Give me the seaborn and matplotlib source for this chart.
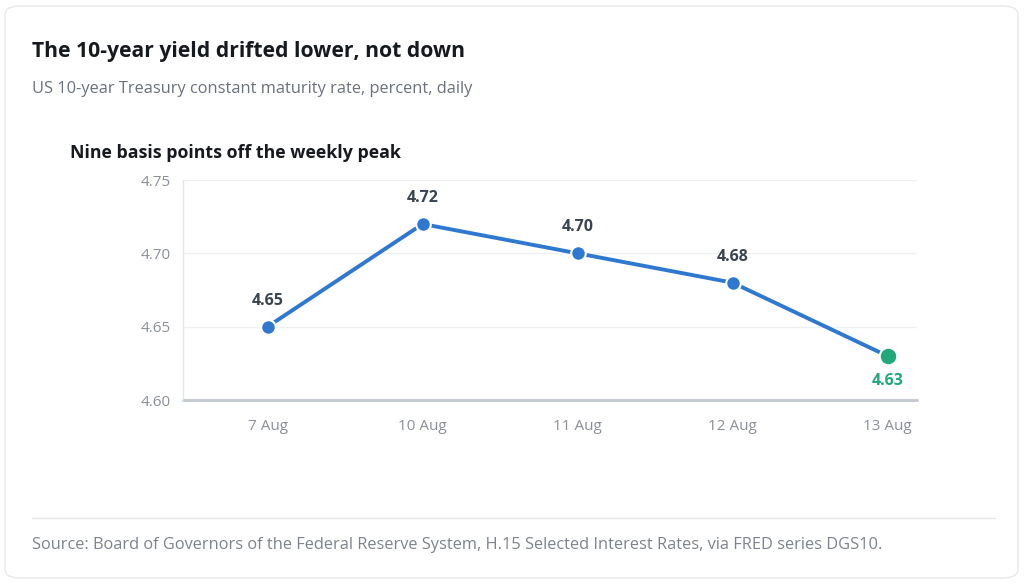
import matplotlib.pyplot as plt
import seaborn as sns
import pandas as pd
import numpy as np
from matplotlib.patches import FancyBboxPatch
from matplotlib.lines import Line2D

dates = ['7 Aug', '10 Aug', '11 Aug', '12 Aug', '13 Aug']
yields = [4.65, 4.72, 4.70, 4.68, 4.63]
y_ticks = [4.60, 4.65, 4.70, 4.75]

BLUE = '#2f78d0'
GREEN = '#22a87a'
DARK = '#3a4350'
GRAY = '#8a8f98'

sns.set_theme(style='white')
plt.rcParams['font.family'] = ['Open Sans', 'DejaVu Sans']

df = pd.DataFrame({'date': dates, 'pos': np.arange(len(dates)), 'yield': yields})

fig = plt.figure(figsize=(10.24, 5.84), dpi=100)
fig.patch.set_facecolor('white')

# card outline
card = FancyBboxPatch((5 / 1024, 6 / 584), 1013 / 1024, 572 / 584,
                      boxstyle='round,pad=0,rounding_size=0.015',
                      transform=fig.transFigure, facecolor='none',
                      edgecolor='#e6e8eb', linewidth=1.0, zorder=-5)
fig.patches.append(card)

ax = fig.add_axes([183 / 1024, 1 - 400 / 584, (917 - 183) / 1024, (400 - 180) / 584])
ax.set_facecolor('none')

for v in y_ticks[1:]:
    ax.axhline(v, color='#eef0f3', linewidth=1, zorder=0)
ax.axhline(4.60, color='#c6cbd1', linewidth=2.2, zorder=1, clip_on=False)

sns.lineplot(data=df, x='pos', y='yield', ax=ax, color=BLUE, linewidth=2.8,
             marker='o', markersize=10.5, markeredgecolor='white',
             markeredgewidth=1.5, zorder=3)
last = df.iloc[[-1]]
sns.scatterplot(data=last, x='pos', y='yield', ax=ax, color=GREEN, s=160,
                edgecolor='white', linewidth=1.5, zorder=4)

for i, row in df.iterrows():
    is_last = i == len(df) - 1
    ax.annotate(f"{row['yield']:.2f}", (row['pos'], row['yield']),
                xytext=(0, -25 if is_last else 26), textcoords='offset pixels',
                ha='center', va='center', fontsize=11.5, fontweight='bold',
                color=GREEN if is_last else DARK, zorder=5)

ax.set_xlim(-0.546, 4.19)
ax.set_ylim(4.60, 4.75)
ax.set_yticks(y_ticks)
ax.set_yticklabels([f'{v:.2f}' for v in y_ticks])
ax.set_xticks(df['pos'])
ax.set_xticklabels(dates)
ax.tick_params(axis='both', colors=GRAY, labelsize=11, length=0)
ax.tick_params(axis='y', pad=9)
ax.tick_params(axis='x', pad=14)
ax.set_xlabel('')
ax.set_ylabel('')

for s in ['top', 'right', 'bottom']:
    ax.spines[s].set_visible(False)
ax.spines['left'].set_color('#e3e6ea')
ax.spines['left'].set_linewidth(1)

fig.text(32 / 1024, 1 - 52 / 584, 'The 10-year yield drifted lower, not down',
         fontsize=15.2, fontweight='bold', color='#16191d', va='center')
fig.text(32 / 1024, 1 - 89 / 584, 'US 10-year Treasury constant maturity rate, percent, daily',
         fontsize=11.8, color='#6b717a', va='center')
fig.text(70 / 1024, 1 - 153 / 584, 'Nine basis points off the weekly peak',
         fontsize=12.8, fontweight='bold', color='#16191d', va='center')

fig.add_artist(Line2D([32 / 1024, 995 / 1024], [1 - 518 / 584, 1 - 518 / 584],
                      transform=fig.transFigure, color='#e6e8eb', linewidth=1))
fig.text(32 / 1024, 1 - 545 / 584,
         'Source: Board of Governors of the Federal Reserve System, H.15 Selected Interest Rates, via FRED series DGS10.',
         fontsize=11.8, color='#7d838c', va='center')

fig.savefig('out.png', dpi=100)
